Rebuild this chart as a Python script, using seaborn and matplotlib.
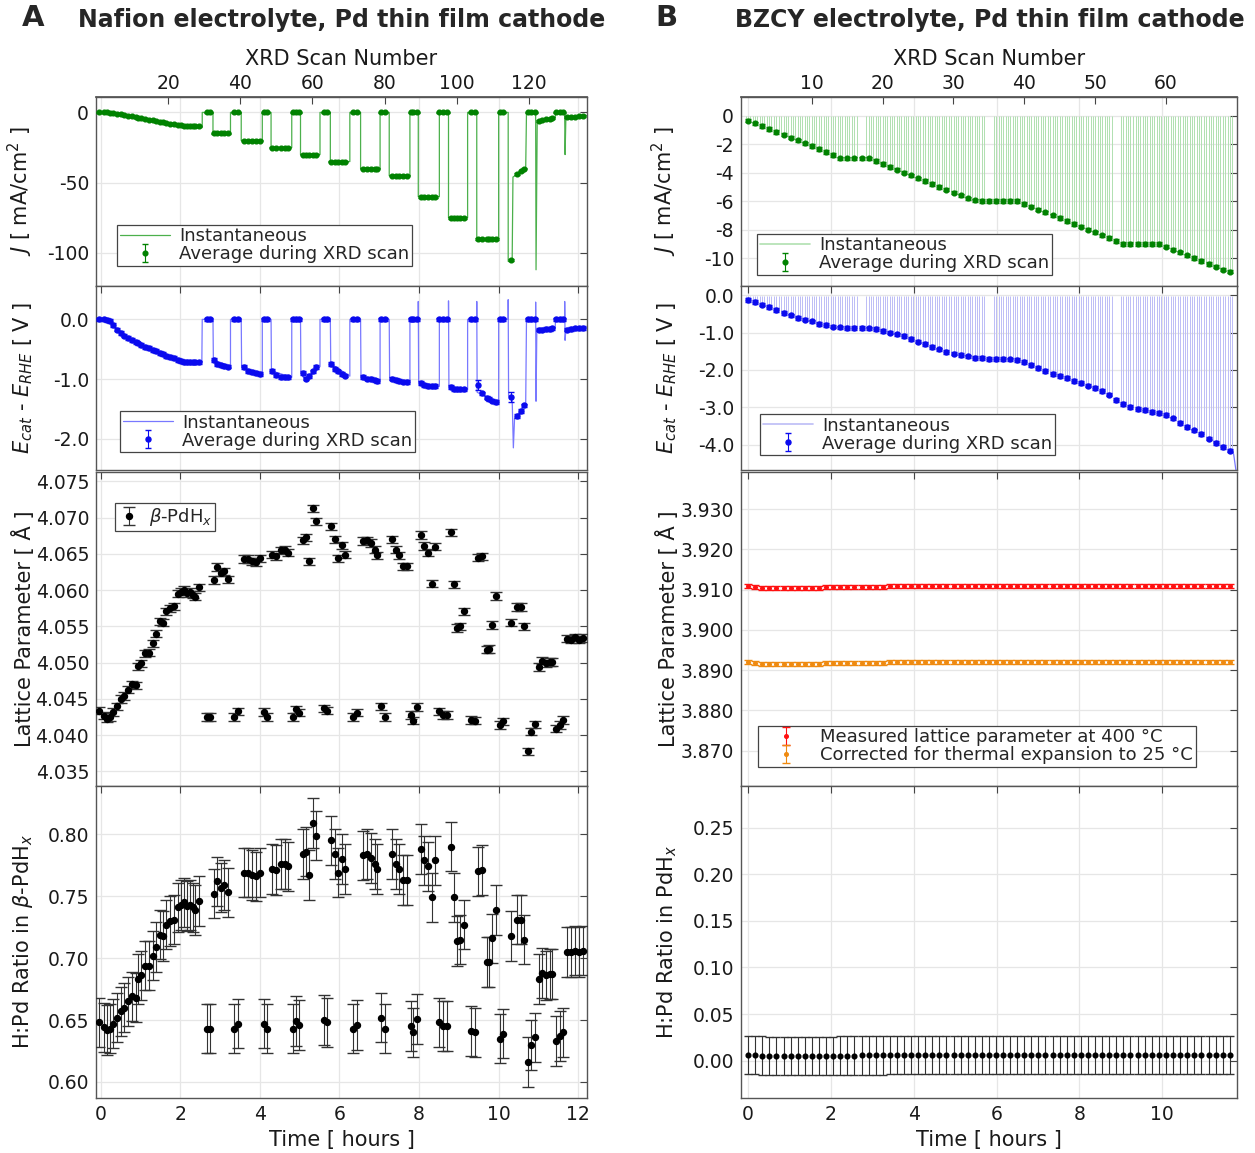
import matplotlib
matplotlib.use("Agg")
import matplotlib.pyplot as plt
import numpy as np
import seaborn as sns
from matplotlib.lines import Line2D
from matplotlib.ticker import FormatStrFormatter

# ---------------- Panel A: Nafion electrolyte, one entry per XRD scan ----------------
nafion_time = [
    -0.05, 0.07, 0.15, 0.23, 0.30, 0.40, 0.50, 0.59, 0.69, 0.79,
    0.89, 0.94, 1.02, 1.12, 1.20, 1.31, 1.39, 1.49, 1.56, 1.65,
    1.73, 1.83, 1.93, 2.01, 2.09, 2.17, 2.25, 2.32, 2.38, 2.47,
    2.67, 2.74, 2.84, 2.92, 3.02, 3.10, 3.20,
    3.36, 3.44, 3.61, 3.69, 3.81, 3.89, 3.99,
    4.10, 4.19, 4.31, 4.40, 4.52, 4.62, 4.70,
    4.82, 4.90, 4.98, 5.08, 5.15, 5.24, 5.34, 5.42,
    5.61, 5.69, 5.79, 5.89, 5.97, 6.06, 6.15,
    6.33, 6.43, 6.60, 6.68, 6.78, 6.88, 6.95,
    7.05, 7.14, 7.32, 7.42, 7.50, 7.59, 7.69,
    7.79, 7.86, 7.96, 8.04, 8.13, 8.23, 8.33, 8.41,
    8.51, 8.61, 8.69, 8.80, 8.87, 8.95, 9.03, 9.13,
    9.30, 9.40, 9.49, 9.57, 9.71, 9.77, 9.84, 9.93,
    10.03, 10.12, 10.30, 10.47, 10.56, 10.63,
    10.73, 10.82, 10.91, 11.01, 11.08, 11.18, 11.28, 11.35,
    11.45, 11.53, 11.62, 11.72, 11.82, 11.92, 12.02, 12.12,
]
nafion_j_avg = [
    0.0, 0.0, 0.0, -0.1, -0.3, -0.8, -1.3, -1.8, -2.3, -2.9,
    -3.4, -3.7, -4.1, -4.7, -5.1, -5.7, -6.1, -6.7, -7.0, -7.5,
    -7.9, -8.4, -8.9, -9.3, -9.6, -9.8, -10.0, -10.0, -10.0, -10.0,
    0, 0, -15, -15, -15, -15, -15,
    0, 0, -20, -20, -20, -20, -20,
    0, 0, -25, -25, -25, -25, -25,
    0, 0, 0, -30, -30, -30, -30, -30,
    0, 0, -35, -35, -35, -35, -35,
    0, 0, -40, -40, -40, -40, -40,
    0, 0, -45, -45, -45, -45, -45,
    0, 0, 0, -60, -60, -60, -60, -60,
    0, 0, 0, -75, -75, -75, -75, -75,
    0, 0, -90, -90, -90, -90, -90, -90,
    0, 0, -105, -44, -42, -40,
    0, 0, 0, -6.0, -5.5, -5.0, -4.6, -4.2,
    0, 0, 0, -3.5, -3.2, -3.0, -2.8, -2.5,
]
nafion_e_avg = [
    0.00, 0.00, -0.01, -0.03, -0.09, -0.17, -0.23, -0.27, -0.31, -0.34,
    -0.38, -0.40, -0.43, -0.46, -0.48, -0.51, -0.53, -0.56, -0.58, -0.61,
    -0.63, -0.65, -0.68, -0.70, -0.71, -0.71, -0.72, -0.72, -0.72, -0.72,
    0.0, 0.0, -0.68, -0.75, -0.77, -0.78, -0.79,
    0.0, 0.0, -0.80, -0.86, -0.88, -0.90, -0.91,
    0.0, 0.0, -0.86, -0.93, -0.96, -0.96, -0.97,
    0.0, 0.0, 0.0, -0.90, -0.99, -0.95, -0.87, -0.80,
    0.0, 0.0, -0.75, -0.83, -0.87, -0.91, -0.94,
    0.0, 0.0, -0.96, -0.99, -1.00, -1.02, -1.03,
    0.0, 0.0, -0.99, -1.01, -1.03, -1.04, -1.05,
    0.0, 0.0, 0.0, -1.06, -1.10, -1.11, -1.12, -1.11,
    0.0, 0.0, 0.0, -1.13, -1.16, -1.17, -1.17, -1.17,
    0.0, 0.0, -1.10, -1.24, -1.31, -1.33, -1.36, -1.38,
    0.0, 0.0, -1.30, -1.62, -1.53, -1.44,
    0.0, 0.0, 0.0, -0.17, -0.17, -0.16, -0.16, -0.15,
    0.0, 0.0, 0.0, -0.17, -0.16, -0.15, -0.15, -0.14,
]
nafion_e_err = [
    0.03, 0.03, 0.03, 0.03, 0.03, 0.03, 0.03, 0.03, 0.03, 0.03,
    0.03, 0.03, 0.03, 0.03, 0.03, 0.03, 0.03, 0.03, 0.03, 0.03,
    0.03, 0.03, 0.03, 0.03, 0.03, 0.03, 0.03, 0.03, 0.03, 0.03,
    0.03, 0.03, 0.03, 0.03, 0.03, 0.03, 0.03,
    0.03, 0.03, 0.03, 0.03, 0.03, 0.03, 0.03,
    0.03, 0.03, 0.03, 0.03, 0.03, 0.03, 0.03,
    0.03, 0.03, 0.03, 0.03, 0.03, 0.03, 0.03, 0.03,
    0.03, 0.03, 0.03, 0.03, 0.03, 0.03, 0.03,
    0.03, 0.03, 0.03, 0.03, 0.03, 0.03, 0.03,
    0.03, 0.03, 0.03, 0.03, 0.03, 0.03, 0.03,
    0.03, 0.03, 0.03, 0.03, 0.03, 0.03, 0.03, 0.03,
    0.03, 0.03, 0.03, 0.03, 0.03, 0.03, 0.03, 0.03,
    0.03, 0.03, 0.08, 0.03, 0.03, 0.03, 0.03, 0.03,
    0.03, 0.03, 0.08, 0.03, 0.03, 0.03,
    0.03, 0.03, 0.03, 0.03, 0.03, 0.03, 0.03, 0.03,
    0.03, 0.03, 0.03, 0.03, 0.03, 0.03, 0.03, 0.03,
]
nafion_lattice = [
    4.0434, 4.0427, 4.0423, 4.0425, 4.0432, 4.0440, 4.0450, 4.0454, 4.0463, 4.0470,
    4.0469, 4.0495, 4.0499, 4.0513, 4.0514, 4.0527, 4.0540, 4.0557, 4.0555, 4.0571,
    4.0575, 4.0578, 4.0595, 4.0598, 4.0601, 4.0596, 4.0598, 4.0594, 4.0591, 4.0604,
    4.0425, 4.0425, 4.0614, 4.0632, 4.0624, 4.0626, 4.0615,
    4.0425, 4.0433, 4.0643, 4.0643, 4.0640, 4.0639, 4.0644,
    4.0432, 4.0425, 4.0649, 4.0647, 4.0655, 4.0656, 4.0652,
    4.0425, 4.0436, 4.0431, 4.0669, 4.0673, 4.0640, 4.0713, 4.0695,
    4.0437, 4.0434, 4.0688, 4.0670, 4.0644, 4.0662, 4.0649,
    4.0425, 4.0431, 4.0668, 4.0669, 4.0665, 4.0656, 4.0648,
    4.0440, 4.0425, 4.0670, 4.0656, 4.0648, 4.0633, 4.0633,
    4.0428, 4.0420, 4.0439, 4.0676, 4.0661, 4.0652, 4.0609, 4.0660,
    4.0433, 4.0428, 4.0428, 4.0680, 4.0608, 4.0548, 4.0550, 4.0571,
    4.0421, 4.0420, 4.0645, 4.0647, 4.0518, 4.0519, 4.0552, 4.0592,
    4.0414, 4.0419, 4.0555, 4.0577, 4.0577, 4.0550,
    4.0378, 4.0405, 4.0415, 4.0494, 4.0503, 4.0499, 4.0501, 4.0501,
    4.0409, 4.0414, 4.0421, 4.0533, 4.0532, 4.0535, 4.0532, 4.0534,
]
nafion_hpd = [
    0.648, 0.644, 0.642, 0.643, 0.647, 0.652, 0.657, 0.660, 0.665, 0.669,
    0.668, 0.683, 0.686, 0.694, 0.694, 0.702, 0.709, 0.719, 0.718, 0.727,
    0.730, 0.731, 0.741, 0.743, 0.745, 0.742, 0.743, 0.741, 0.739, 0.746,
    0.643, 0.643, 0.752, 0.762, 0.757, 0.759, 0.753,
    0.643, 0.647, 0.769, 0.769, 0.767, 0.766, 0.769,
    0.647, 0.643, 0.772, 0.771, 0.776, 0.776, 0.774,
    0.643, 0.649, 0.646, 0.784, 0.786, 0.767, 0.809, 0.799,
    0.650, 0.648, 0.795, 0.784, 0.769, 0.780, 0.772,
    0.643, 0.646, 0.783, 0.784, 0.781, 0.776, 0.772,
    0.652, 0.643, 0.784, 0.776, 0.772, 0.763, 0.763,
    0.645, 0.640, 0.651, 0.788, 0.779, 0.774, 0.749, 0.779,
    0.648, 0.645, 0.645, 0.790, 0.749, 0.714, 0.715, 0.727,
    0.641, 0.640, 0.770, 0.771, 0.697, 0.697, 0.716, 0.739,
    0.635, 0.639, 0.718, 0.731, 0.731, 0.715,
    0.616, 0.630, 0.636, 0.683, 0.688, 0.686, 0.687, 0.687,
    0.633, 0.637, 0.640, 0.705, 0.705, 0.706, 0.705, 0.706,
]
NAFION_J_ERR = 0.6
NAFION_LATTICE_ERR = 0.0005
NAFION_HPD_ERR = 0.02

# instantaneous potentiostat traces (vertices)
nafion_j_trace_t = [
    -0.12, 0.25, 0.50, 1.00, 1.50, 2.00, 2.30, 2.55, 2.55, 2.82,
    2.82, 3.26, 3.26, 3.53, 3.53, 4.06, 4.06, 4.28, 4.28, 4.80,
    4.80, 5.02, 5.02, 5.51, 5.51, 5.77, 5.77, 6.26, 6.26, 6.53,
    6.53, 7.02, 7.02, 7.25, 7.25, 7.77, 7.77, 7.98, 7.98, 8.51,
    8.51, 8.74, 8.74, 9.22, 9.22, 9.45, 9.45, 10.00, 10.00, 10.24,
    10.24, 10.34, 10.36, 10.68, 10.70, 10.93, 10.94, 10.97, 11.42, 11.43,
    11.66, 11.67, 11.69, 12.22,
]
nafion_j_trace = [
    0, 0, -1.3, -4.0, -6.8, -9.2, -10.0, -10.2, 0, 0,
    -15, -15, 0, 0, -20, -20, 0, 0, -25, -25,
    0, 0, -30, -30, 0, 0, -35, -35, 0, 0,
    -40, -40, 0, 0, -45, -45, 0, 0, -60, -60,
    0, 0, -75, -75, 0, 0, -90, -90, 0, 0,
    -106, -105, -46, -40, 0, 0, -112, -6, -4, 0,
    0, -30, -4, -2.5,
]
nafion_e_trace_t = [
    -0.12, 0.25, 0.35, 0.50, 0.80, 1.20, 1.50, 1.80, 2.00, 2.54,
    2.55, 2.82, 2.83, 3.26, 3.26, 3.53, 3.54, 4.06, 4.06, 4.28,
    4.29, 4.80, 4.80, 5.02, 5.03, 5.12, 5.25, 5.51, 5.51, 5.77,
    5.78, 6.26, 6.26, 6.53, 6.54, 7.02, 7.02, 7.25, 7.26, 7.77,
    7.77, 7.98, 7.98, 7.99, 8.51, 8.51, 8.74, 8.74, 8.75, 9.22,
    9.22, 9.45, 9.45, 9.46, 10.00, 10.00, 10.24, 10.24, 10.25, 10.34,
    10.37, 10.40, 10.68, 10.70, 10.93, 10.93, 10.94, 10.96, 11.42, 11.43,
    11.66, 11.66, 11.67, 11.69, 12.22,
]
nafion_e_trace = [
    0.0, 0.0, -0.13, -0.23, -0.35, -0.48, -0.56, -0.65, -0.70, -0.72,
    0.0, 0.0, -0.68, -0.79, 0.0, 0.0, -0.80, -0.92, 0.0, 0.0,
    -0.86, -0.97, 0.0, 0.0, -0.90, -1.00, -0.95, -0.79, 0.0, 0.0,
    -0.74, -0.95, 0.0, 0.0, -0.96, -1.03, 0.0, 0.0, -0.98, -1.06,
    0.0, 0.0, 0.30, -1.05, -1.12, 0.0, 0.0, 0.31, -1.12, -1.18,
    0.0, 0.0, 0.30, -1.22, -1.40, 0.0, 0.0, 0.33, -1.28, -1.34,
    -2.15, -1.66, -1.42, 0.0, 0.0, 0.29, -1.37, -0.17, -0.15, 0.0,
    0.0, 0.30, -0.35, -0.17, -0.14,
]

# ---------------- Panel B: BZCY electrolyte, one entry per XRD scan ----------------
bzcy_time = [
    0.00, 0.17, 0.34, 0.51, 0.68, 0.86, 1.03, 1.20, 1.37, 1.54,
    1.71, 1.88, 2.05, 2.22, 2.39, 2.57, 2.74, 2.91, 3.08, 3.25,
    3.42, 3.59, 3.76, 3.93, 4.10, 4.28, 4.45, 4.62, 4.79, 4.96,
    5.13, 5.30, 5.47, 5.64, 5.81, 5.99, 6.16, 6.33, 6.50, 6.67,
    6.84, 7.01, 7.18, 7.35, 7.52, 7.70, 7.87, 8.04, 8.21, 8.38,
    8.55, 8.72, 8.89, 9.06, 9.23, 9.41, 9.58, 9.75, 9.92, 10.09,
    10.26, 10.43, 10.60, 10.77, 10.94, 11.12, 11.29, 11.46, 11.63,
]
bzcy_j_avg = [
    -0.35, -0.55, -0.75, -0.95, -1.15, -1.35, -1.55, -1.75, -1.95, -2.15,
    -2.35, -2.55, -2.78, -3.0, -3.0, -3.0, -3.0, -3.0, -3.2, -3.4,
    -3.6, -3.8, -4.0, -4.2, -4.4, -4.6, -4.8, -5.0, -5.2, -5.4,
    -5.6, -5.8, -5.95, -6.0, -6.0, -6.0, -6.0, -6.0, -6.0, -6.2,
    -6.4, -6.6, -6.8, -7.0, -7.2, -7.4, -7.6, -7.8, -8.0, -8.2,
    -8.4, -8.6, -8.8, -9.0, -9.0, -9.0, -9.0, -9.0, -9.0, -9.2,
    -9.4, -9.6, -9.8, -10.0, -10.2, -10.4, -10.6, -10.8, -10.95,
]
bzcy_e_avg = [
    -0.12, -0.18, -0.25, -0.32, -0.40, -0.48, -0.54, -0.60, -0.65, -0.70,
    -0.77, -0.80, -0.84, -0.86, -0.88, -0.88, -0.88, -0.89, -0.91, -0.96,
    -1.00, -1.05, -1.10, -1.18, -1.24, -1.31, -1.38, -1.45, -1.51, -1.56,
    -1.60, -1.64, -1.68, -1.69, -1.70, -1.70, -1.71, -1.72, -1.74, -1.78,
    -1.86, -1.94, -2.02, -2.10, -2.17, -2.22, -2.29, -2.36, -2.42, -2.48,
    -2.56, -2.66, -2.80, -2.92, -3.00, -3.04, -3.08, -3.12, -3.16, -3.20,
    -3.30, -3.42, -3.52, -3.62, -3.72, -3.84, -3.95, -4.06, -4.16,
]
bzcy_a_400c = [
    3.9109, 3.9107, 3.9105, 3.9104, 3.9104, 3.9104, 3.9104, 3.9104, 3.9104, 3.9105,
    3.9105, 3.9106, 3.9106, 3.9107, 3.9107, 3.9107, 3.9107, 3.9107, 3.9107, 3.9107,
    3.9108, 3.9108, 3.9108, 3.9108, 3.9108, 3.9108, 3.9108, 3.9108, 3.9108, 3.9108,
    3.9109, 3.9109, 3.9109, 3.9110, 3.9110, 3.9110, 3.9110, 3.9110, 3.9110, 3.9110,
    3.9110, 3.9110, 3.9110, 3.9110, 3.9110, 3.9110, 3.9110, 3.9110, 3.9110, 3.9110,
    3.9110, 3.9110, 3.9110, 3.9110, 3.9110, 3.9109, 3.9109, 3.9109, 3.9109, 3.9109,
    3.9109, 3.9108, 3.9108, 3.9108, 3.9108, 3.9108, 3.9108, 3.9108, 3.9108,
]
bzcy_a_25c = [
    3.8920, 3.8918, 3.8916, 3.8915, 3.8915, 3.8915, 3.8915, 3.8915, 3.8915, 3.8916,
    3.8916, 3.8917, 3.8917, 3.8918, 3.8918, 3.8918, 3.8918, 3.8918, 3.8918, 3.8918,
    3.8919, 3.8919, 3.8919, 3.8919, 3.8919, 3.8919, 3.8919, 3.8919, 3.8919, 3.8919,
    3.8920, 3.8920, 3.8920, 3.8921, 3.8921, 3.8921, 3.8921, 3.8921, 3.8921, 3.8921,
    3.8921, 3.8921, 3.8921, 3.8921, 3.8921, 3.8921, 3.8921, 3.8921, 3.8921, 3.8921,
    3.8921, 3.8921, 3.8921, 3.8921, 3.8921, 3.8920, 3.8920, 3.8920, 3.8920, 3.8920,
    3.8920, 3.8919, 3.8919, 3.8919, 3.8919, 3.8919, 3.8919, 3.8919, 3.8919,
]
bzcy_hpd = [
    0.0062, 0.0058, 0.0055, 0.0053, 0.0052, 0.0052, 0.0052, 0.0052, 0.0052, 0.0053,
    0.0053, 0.0054, 0.0054, 0.0055, 0.0055, 0.0055, 0.0056, 0.0056, 0.0057, 0.0057,
    0.0058, 0.0058, 0.0058, 0.0058, 0.0059, 0.0059, 0.0059, 0.0059, 0.0060, 0.0060,
    0.0060, 0.0060, 0.0061, 0.0062, 0.0062, 0.0062, 0.0062, 0.0062, 0.0062, 0.0062,
    0.0063, 0.0063, 0.0063, 0.0063, 0.0063, 0.0063, 0.0063, 0.0063, 0.0063, 0.0063,
    0.0062, 0.0062, 0.0062, 0.0062, 0.0062, 0.0062, 0.0061, 0.0061, 0.0061, 0.0061,
    0.0060, 0.0060, 0.0060, 0.0059, 0.0059, 0.0059, 0.0059, 0.0059, 0.0059,
]
BZCY_J_ERR = 0.12
BZCY_E_ERR = 0.05
BZCY_LATTICE_ERR = 0.0005
BZCY_HPD_ERR = 0.0205
# scans during which no instantaneous pulses were recorded
bzcy_no_pulse_scans = [17, 35, 53]
BZCY_E_PULSE_TOP = -0.03
bzcy_e_tail_t = [11.63, 11.72, 11.79]
bzcy_e_tail = [-4.16, -4.25, -4.80]

# ---------------- styling ----------------
sns.set_theme(style="white", rc={"axes.unicode_minus": False})
plt.rcParams["font.family"] = ["DejaVu Sans"]
plt.rcParams["mathtext.fontset"] = "dejavusans"

GREEN = "#008200"
GREEN_INST = "#4cb04c"
GREEN_PULSE = "#b0e0b0"
BLUE = "#0a0aee"
BLUE_INST = "#7878ff"
BLUE_PULSE = "#bcbcf6"
RED = "#ff1010"
ORANGE = "#ef8a10"
GRID = "#e6e6e6"
SPINE = "#555555"
TICK_FS = 13.5
LABEL_FS = 15
LEGEND_FS = 13

COLS = {"A": (0.0765, 0.3912), "B": (0.5904, 0.3952)}
ROWS = [(0.752, 0.1639), (0.5924, 0.1596), (0.3183, 0.2723), (0.0477, 0.2706)]
XLIM = {"A": (-0.12, 12.22), "B": (-0.17, 11.8)}

fig = plt.figure(figsize=(12.55, 11.53), dpi=100)


def make_axes(col, row, ylim, yticks, fmt, ylabel):
    x0, w = COLS[col]
    y0, h = ROWS[row]
    ax = fig.add_axes([x0, y0, w, h])
    ax.set_yticks(yticks)
    ax.yaxis.set_major_formatter(FormatStrFormatter(fmt))
    ax.set_xticks([t for t in range(0, 13, 2) if t <= XLIM[col][1]])
    # limits after ticks so the tick list does not widen the view
    ax.set_xlim(*XLIM[col])
    ax.set_ylim(*ylim)
    ax.grid(True, color=GRID, linewidth=0.9)
    ax.tick_params(direction="in", top=(row != 0), right=True, length=5, width=0.8,
                   color="#444444", labelsize=TICK_FS, labelcolor="#1a1a1a", pad=5)
    for s in ax.spines.values():
        s.set_color(SPINE)
        s.set_linewidth(1.0)
    ax.set_ylabel(ylabel, fontsize=LABEL_FS, color="#1a1a1a")
    ax.yaxis.set_label_coords(-0.125, 0.5)
    if row < 3:
        ax.tick_params(labelbottom=False)
    else:
        ax.set_xlabel("Time [ hours ]", fontsize=LABEL_FS, color="#1a1a1a", labelpad=4)
    return ax


def add_scan_axis(ax, hours_per_scan, t_offset, ticks):
    sec = ax.secondary_xaxis(
        "top",
        functions=(lambda t: (t - t_offset) / hours_per_scan,
                   lambda s: s * hours_per_scan + t_offset))
    sec.set_xticks(ticks)
    sec.tick_params(direction="in", length=5, width=0.8, color="#444444",
                    labelsize=TICK_FS, labelcolor="#1a1a1a", pad=3)
    sec.spines["top"].set_color(SPINE)
    sec.set_xlabel("XRD Scan Number", fontsize=LABEL_FS, color="#1a1a1a", labelpad=6)
    return sec


def add_legend(ax, handles, labels, anchor, loc="lower left", handlelength=2.8):
    leg = ax.legend(handles, labels, loc=loc, bbox_to_anchor=anchor, frameon=True,
                    fancybox=False, edgecolor="#444444", framealpha=1.0,
                    fontsize=LEGEND_FS, handlelength=handlelength, borderpad=0.15,
                    labelspacing=0.0, handletextpad=0.5, borderaxespad=0.0)
    leg.get_frame().set_linewidth(0.9)
    return leg


def pulses(times, values, skip):
    # three open-circuit interruptions per scan, drawn down to the scan value
    t_out, v_out = [], []
    step = np.diff(times).mean() / 3.0
    for n, (t, v) in enumerate(zip(times, values), start=1):
        if n in skip:
            continue
        for k in (-1, 0, 1):
            t_out.append(t + k * step)
            v_out.append(v)
    return np.array(t_out), np.array(v_out)


# ---------------- column A ----------------
ax = make_axes("A", 0, (-123.5, 11), [-100, -50, 0], "%d", r"$J$ [ mA/cm$^2$ ]")
add_scan_axis(ax, 0.0907, -0.124, [20, 40, 60, 80, 100, 120])
sns.lineplot(x=nafion_j_trace_t, y=nafion_j_trace, ax=ax, sort=False, estimator=None,
             color=GREEN_INST, linewidth=0.9)
eb = ax.errorbar(nafion_time, nafion_j_avg, yerr=NAFION_J_ERR, fmt="o", ms=3.4,
                 color=GREEN, ecolor=GREEN, elinewidth=0.8, capsize=2, zorder=3)
add_legend(ax, [Line2D([], [], color=GREEN_INST, lw=0.9), eb],
           ["Instantaneous", "Average during XRD scan"], (0.043, 0.105))

ax = make_axes("A", 1, (-2.52, 0.56), [-2.0, -1.0, 0.0], "%.1f",
               r"$E_{cat}$ - $E_{RHE}$ [ V ]")
sns.lineplot(x=nafion_e_trace_t, y=nafion_e_trace, ax=ax, sort=False, estimator=None,
             color=BLUE_INST, linewidth=0.9)
eb = ax.errorbar(nafion_time, nafion_e_avg, yerr=nafion_e_err, fmt="o", ms=3.6,
                 color=BLUE, ecolor=BLUE, elinewidth=0.8, capsize=2.5, zorder=3)
add_legend(ax, [Line2D([], [], color=BLUE_INST, lw=0.9), eb],
           ["Instantaneous", "Average during XRD scan"], (0.049, 0.095))

ax = make_axes("A", 2, (4.0330, 4.0763), np.arange(4.035, 4.0751, 0.005), "%.3f",
               "Lattice Parameter [ Å ]")
eb = ax.errorbar(nafion_time, nafion_lattice, yerr=NAFION_LATTICE_ERR, fmt="o", ms=4.3,
                 color="black", ecolor="#333333", elinewidth=0.8, capsize=4, zorder=3)
add_legend(ax, [eb], [r"$\beta$-PdH$_x$"], (0.039, 0.9), loc="upper left",
           handlelength=1.2)

ax = make_axes("A", 3, (0.587, 0.839), np.arange(0.60, 0.801, 0.05), "%.2f",
               r"H:Pd Ratio in $\beta$-PdH$_x$")
ax.errorbar(nafion_time, nafion_hpd, yerr=NAFION_HPD_ERR, fmt="o", ms=4.3,
            color="black", ecolor="#333333", elinewidth=0.8, capsize=4, zorder=3)

# ---------------- column B ----------------
ax = make_axes("B", 0, (-11.95, 1.3), [-10, -8, -6, -4, -2, 0], "%d",
               r"$J$ [ mA/cm$^2$ ]")
add_scan_axis(ax, 0.171, -0.171, [10, 20, 30, 40, 50, 60])
pt, pj = pulses(bzcy_time, bzcy_j_avg, bzcy_no_pulse_scans)
ax.vlines(pt, 0, pj, color=GREEN_PULSE, linewidth=0.7, zorder=1)
eb = ax.errorbar(bzcy_time, bzcy_j_avg, yerr=BZCY_J_ERR, fmt="o", ms=3.4,
                 color=GREEN, ecolor=GREEN, elinewidth=0.8, capsize=2, zorder=3)
add_legend(ax, [Line2D([], [], color=GREEN_PULSE, lw=1.2), eb],
           ["Instantaneous", "Average during XRD scan"], (0.032, 0.058))

ax = make_axes("B", 1, (-4.68, 0.25), [-4.0, -3.0, -2.0, -1.0, 0.0], "%.1f",
               r"$E_{cat}$ - $E_{RHE}$ [ V ]")
pt, pe = pulses(bzcy_time, bzcy_e_avg, bzcy_no_pulse_scans)
ax.vlines(pt, BZCY_E_PULSE_TOP, pe, color=BLUE_PULSE, linewidth=0.7, zorder=1)
sns.lineplot(x=bzcy_e_tail_t, y=bzcy_e_tail, ax=ax, sort=False, estimator=None,
             color=BLUE_INST, linewidth=0.9)
eb = ax.errorbar(bzcy_time, bzcy_e_avg, yerr=BZCY_E_ERR, fmt="o", ms=3.6,
                 color=BLUE, ecolor=BLUE, elinewidth=0.8, capsize=2.5, zorder=3)
add_legend(ax, [Line2D([], [], color=BLUE_PULSE, lw=1.2), eb],
           ["Instantaneous", "Average during XRD scan"], (0.038, 0.08))

ax = make_axes("B", 2, (3.8612, 3.9392), np.arange(3.870, 3.9301, 0.010), "%.3f",
               "Lattice Parameter [ Å ]")
eb_r = ax.errorbar(bzcy_time, bzcy_a_400c, yerr=BZCY_LATTICE_ERR, fmt="o", ms=2.6,
                   color=RED, ecolor=RED, elinewidth=0.8, capsize=3, zorder=3)
eb_o = ax.errorbar(bzcy_time, bzcy_a_25c, yerr=BZCY_LATTICE_ERR, fmt="o", ms=2.6,
                   color=ORANGE, ecolor=ORANGE, elinewidth=0.8, capsize=3, zorder=3)
add_legend(ax, [eb_r, eb_o],
           ["Measured lattice parameter at 400 °C", "Corrected for thermal expansion to 25 °C"],
           (0.034, 0.06))

ax = make_axes("B", 3, (-0.04, 0.2946), np.arange(0.0, 0.251, 0.05), "%.2f",
               r"H:Pd Ratio in PdH$_x$")
ax.errorbar(bzcy_time, bzcy_hpd, yerr=BZCY_HPD_ERR, fmt="o", ms=3.4,
            color="black", ecolor="#333333", elinewidth=0.8, capsize=3, zorder=3)

# ---------------- panel headings ----------------
fig.text(22 / 1255, 1 - 18 / 1153, "A", fontsize=21, fontweight="bold", va="center")
fig.text(342 / 1255, 1 - 20 / 1153, "Nafion electrolyte, Pd thin film cathode",
         fontsize=17, fontweight="bold", va="center", ha="center")
fig.text(655 / 1255, 1 - 18 / 1153, "B", fontsize=21, fontweight="bold", va="center")
fig.text(990 / 1255, 1 - 20 / 1153, "BZCY electrolyte, Pd thin film cathode",
         fontsize=17, fontweight="bold", va="center", ha="center")

fig.savefig("out.png", dpi=100)
plt.close(fig)
